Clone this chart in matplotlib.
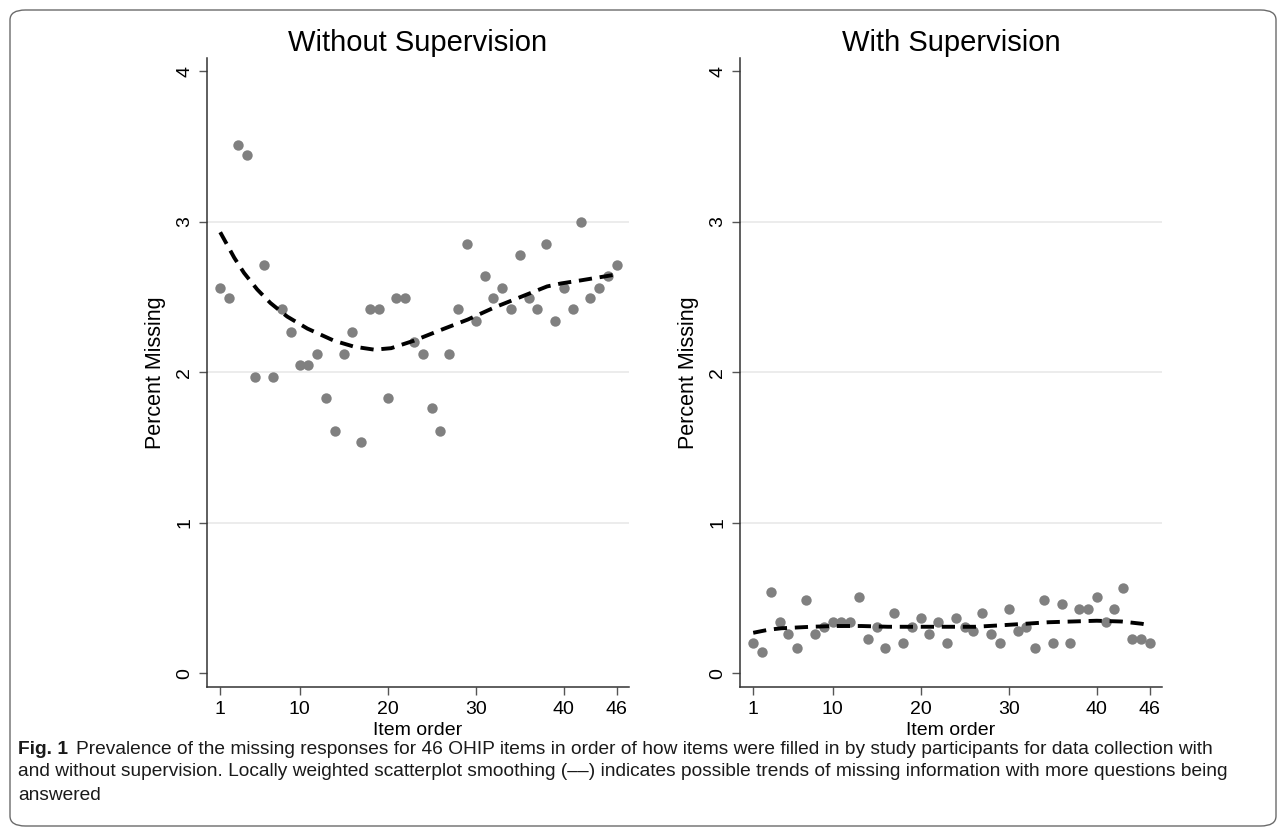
import matplotlib
matplotlib.use("Agg")
import matplotlib.pyplot as plt
from matplotlib import font_manager
from matplotlib.patches import FancyBboxPatch

# item order 1..46
items = list(range(1, 47))

# percent missing per item
without_sup = [2.56, 2.49, 3.51, 3.44, 1.97, 2.71, 1.97, 2.42, 2.27, 2.05,
               2.05, 2.12, 1.83, 1.61, 2.12, 2.27, 1.54, 2.42, 2.42, 1.83,
               2.49, 2.49, 2.20, 2.12, 1.76, 1.61, 2.12, 2.42, 2.85, 2.34,
               2.64, 2.49, 2.56, 2.42, 2.78, 2.49, 2.42, 2.85, 2.34, 2.56,
               2.42, 3.00, 2.49, 2.56, 2.64, 2.71]
with_sup = [0.20, 0.14, 0.54, 0.34, 0.26, 0.17, 0.49, 0.26, 0.31, 0.34,
            0.34, 0.34, 0.51, 0.23, 0.31, 0.17, 0.40, 0.20, 0.31, 0.37,
            0.26, 0.34, 0.20, 0.37, 0.31, 0.28, 0.40, 0.26, 0.20, 0.43,
            0.28, 0.31, 0.17, 0.49, 0.20, 0.46, 0.20, 0.43, 0.43, 0.51,
            0.34, 0.43, 0.57, 0.23, 0.23, 0.20]

# lowess trend lines
trend_without_x = [1, 2.6, 3.7, 5.2, 6.7, 8.6, 10.9, 13.9, 16.2, 18.5, 20.4,
                   23.0, 26.0, 29.1, 32.1, 35.1, 38.1, 39.7, 41.9, 45.0, 46]
trend_without_y = [2.93, 2.76, 2.66, 2.55, 2.46, 2.37, 2.29, 2.21, 2.17, 2.15,
                   2.16, 2.21, 2.28, 2.35, 2.43, 2.50, 2.57, 2.59, 2.61, 2.64, 2.65]
trend_with_x = [1, 2.7, 4.2, 7.6, 10.3, 13.3, 16.3, 20.9, 23.1, 26.2, 29.2,
                31.9, 34.5, 37.2, 40.0, 42.8, 45.1, 46]
trend_with_y = [0.27, 0.29, 0.30, 0.31, 0.315, 0.315, 0.31, 0.31, 0.31, 0.31,
                0.32, 0.33, 0.34, 0.345, 0.35, 0.345, 0.33, 0.32]

panel_titles = ["Without Supervision", "With Supervision"]
x_ticks = [1, 10, 20, 30, 40, 46]
y_ticks = [0, 1, 2, 3, 4]

plt.rcParams["font.family"] = ["Liberation Sans", "DejaVu Sans"]

W, H = 1285, 831
fig = plt.figure(figsize=(W / 100, H / 100), dpi=100)


def fx(px):
    return px / W


def fy(py):
    return 1 - py / H


# rounded border round the whole figure
border = FancyBboxPatch((fx(10), fy(826)), fx(1266), (826 - 10) / H,
                        boxstyle="round,pad=0,rounding_size=0.012",
                        transform=fig.transFigure, fill=False,
                        edgecolor="#6b6b6b", linewidth=1.0)
fig.patches.append(border)

panels = [(207, without_sup, trend_without_x, trend_without_y),
          (740, with_sup, trend_with_x, trend_with_y)]

for (left_px, vals, tx, ty), title in zip(panels, panel_titles):
    ax = fig.add_axes([fx(left_px), fy(687), 422 / W, (687 - 58) / H])
    for yv in [1, 2, 3]:
        ax.axhline(yv, color="#eaeaea", linewidth=1.3, zorder=0)
    ax.scatter(items, vals, s=56, color="#808080", linewidths=0, zorder=2)
    ax.plot(tx, ty, color="black", linewidth=2.8, dashes=(3.4, 2.0),
            solid_capstyle="butt", dash_capstyle="butt", zorder=3)
    ax.set_xlim(-0.5, 47.4)
    ax.set_ylim(-0.09, 4.087)
    ax.set_xticks(x_ticks)
    ax.set_yticks(y_ticks)
    ax.set_yticklabels([str(v) for v in y_ticks], rotation=90, va="center")
    ax.tick_params(axis="both", length=6, width=1, color="#555555",
                   labelsize=14, pad=4)
    for side in ["top", "right"]:
        ax.spines[side].set_visible(False)
    for side in ["left", "bottom"]:
        ax.spines[side].set_color("#333333")
        ax.spines[side].set_linewidth(1.1)
    ax.set_title(title, fontsize=21, pad=5)
    ax.set_xlabel("Item order", fontsize=14, labelpad=3)
    ax.set_ylabel("Percent Missing", fontsize=15.5, labelpad=7)

# caption
names = {f.name for f in font_manager.fontManager.ttflist}
cap_font = "Liberation Sans Narrow" if "Liberation Sans Narrow" in names else "Liberation Sans"
cap_size = 16.5 if cap_font == "Liberation Sans Narrow" else 13.8

fig.canvas.draw()
renderer = fig.canvas.get_renderer()
bold = fig.text(fx(18), fy(749), "Fig. 1", fontsize=cap_size, fontweight="bold",
                family=[cap_font, "DejaVu Sans"], va="center", color="#1a1a1a")
bb = bold.get_window_extent(renderer=renderer)
fig.text(bb.x1 / W + fx(8), fy(749),
         "Prevalence of the missing responses for 46 OHIP items in order of how items were "
         "filled in by study participants for data collection with",
         fontsize=cap_size, family=[cap_font, "DejaVu Sans"], va="center", color="#1a1a1a")
fig.text(fx(18), fy(772),
         "and without supervision. Locally weighted scatterplot smoothing (––) indicates "
         "possible trends of missing information with more questions being",
         fontsize=cap_size, family=[cap_font, "DejaVu Sans"], va="center", color="#1a1a1a")
fig.text(fx(18), fy(795), "answered",
         fontsize=cap_size, family=[cap_font, "DejaVu Sans"], va="center", color="#1a1a1a")

fig.savefig("out.png", dpi=100)
